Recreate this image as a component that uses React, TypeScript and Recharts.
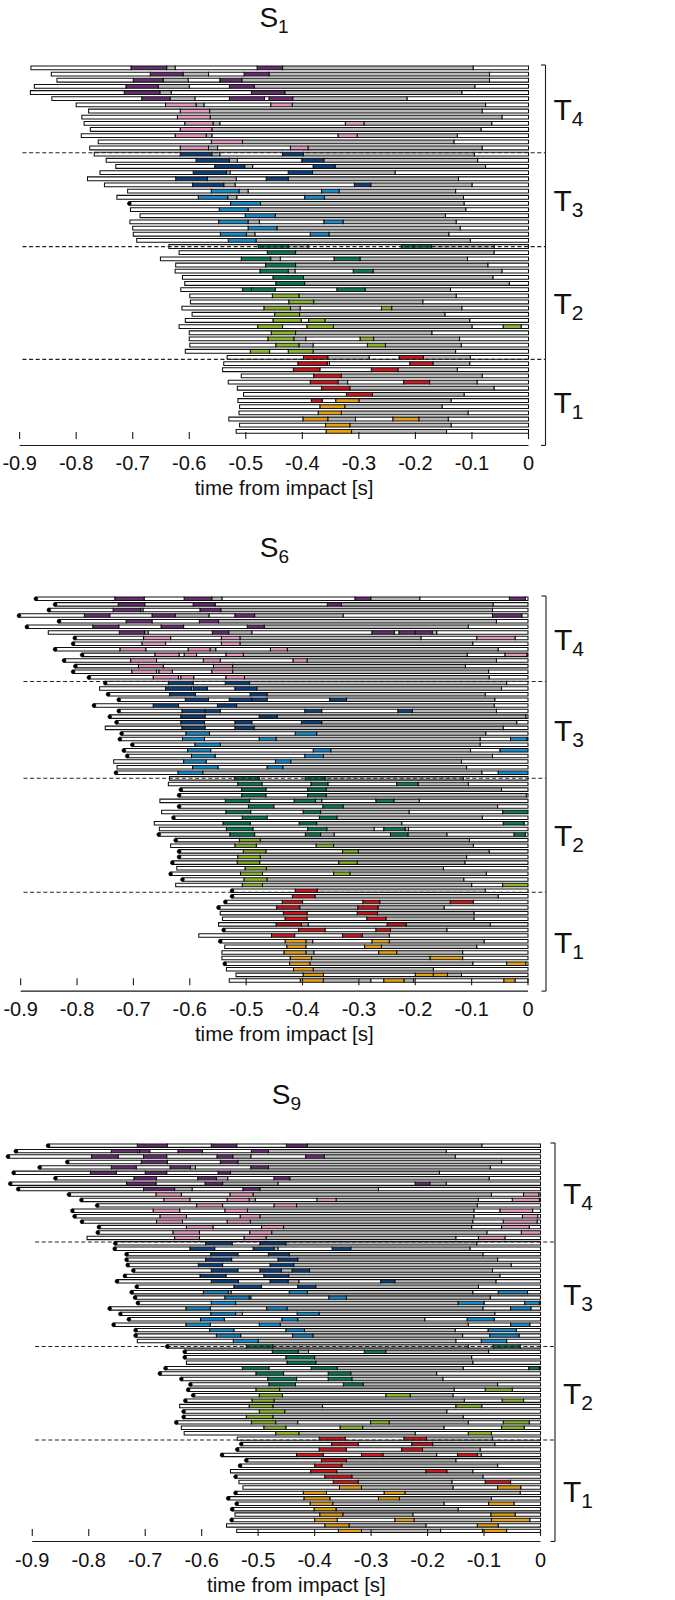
import React from "react";
import { Bar, Cell, ComposedChart, Line, ReferenceLine, XAxis, YAxis } from "recharts";

const FONT = "'Liberation Sans', Arial, sans-serif";

// W white, G grey, P purple, K pink, B dark blue, L light blue, N green, Y lime, R red, O orange
const FILL: Record<string, string> = {
  W: "#ffffff",
  G: "#b9b9b9",
  P: "#6a2e74",
  K: "#e89ac0",
  B: "#0d4280",
  L: "#1a8fd0",
  N: "#0b7b58",
  Y: "#8cb82b",
  R: "#cf1820",
  O: "#e8a315",
};

const TIME_TICKS = [-0.9, -0.8, -0.7, -0.6, -0.5, -0.4, -0.3, -0.2, -0.1, 0];
const TICK_LABELS = ["-0.9", "-0.8", "-0.7", "-0.6", "-0.5", "-0.4", "-0.3", "-0.2", "-0.1", "0"];

// one string per trial: start time ("*" = marked with a dot), then colour + end time of each segment
const s1T4 = [
  "-0.88 W-0.703 P-0.64 G-0.625 W-0.48 P-0.435 G-0.098 W0",
  "-0.844 W-0.669 P-0.611 G-0.566 W-0.503 P-0.459 G-0.069 W0",
  "-0.834 W-0.699 P-0.646 G-0.602 W-0.546 P-0.507 G-0.069 W0",
  "-0.874 W-0.712 P-0.655 G-0.6 W-0.529 P-0.485 G-0.095 W0",
  "-0.881 W-0.715 P-0.652 G-0.632 W-0.49 P-0.431 G-0.118 W0",
  "-0.843 W-0.684 P-0.634 G-0.59 W-0.529 P-0.467 W-0.459 P-0.417 G-0.215 W0",
  "-0.8 W-0.642 K-0.588 G-0.574 W-0.456 K-0.418 G-0.076 W0",
  "-0.778 W-0.616 K-0.564 G-0.082 W0",
  "-0.79 W-0.621 K-0.563 G-0.047 W0",
  "-0.786 W-0.608 K-0.558 G-0.546 W-0.324 K-0.291 G-0.065 W0",
  "-0.775 W-0.616 K-0.56 G-0.084 W0",
  "-0.791 W-0.625 K-0.57 G-0.56 W-0.337 K-0.303 G-0.126 W0",
  "-0.761 W-0.561 K-0.506 G-0.132 W0",
  "-0.776 W-0.616 K-0.566 G-0.55 W-0.421 K-0.39 G-0.082 W0",
];
const s1T3 = [
  "-0.768 W-0.616 B-0.56 G-0.546 W-0.435 B-0.398 G-0.096 W0",
  "-0.747 W-0.588 B-0.529 G-0.515 W-0.401 B-0.362 G-0.09 W0",
  "-0.73 W-0.555 B-0.502 G-0.488 W-0.381 B-0.342 G-0.076 W0",
  "-0.758 W-0.593 B-0.534 G-0.528 W-0.425 B-0.382 G-0.236 W0",
  "-0.78 W-0.624 B-0.568 G-0.517 W-0.464 B-0.425 G-0.124 W0",
  "-0.75 W-0.594 B-0.539 G-0.519 W-0.308 B-0.279 G-0.1 W0",
  "-0.709 W-0.561 L-0.512 G-0.496 W-0.366 L-0.335 G-0.129 W0",
  "-0.728 W-0.584 L-0.532 G-0.516 W-0.396 L-0.361 G-0.115 W0",
  "*-0.706 W-0.527 L-0.474 G-0.114 W0",
  "-0.704 W-0.547 L-0.496 G-0.111 W0",
  "-0.687 W-0.501 L-0.448 G-0.147 W0",
  "-0.705 W-0.548 L-0.496 G-0.476 W-0.362 L-0.328 G-0.128 W0",
  "-0.7 W-0.496 L-0.445 G-0.121 W0",
  "-0.699 W-0.545 L-0.499 G-0.484 W-0.386 L-0.353 G-0.141 W0",
  "-0.693 W-0.531 L-0.482 G-0.103 W0",
];
const s1T2 = [
  "-0.636 W-0.478 N-0.425 G-0.39 W-0.225 N-0.204 N-0.172 G-0.061 W0",
  "-0.618 W-0.462 N-0.412 G-0.061 W0",
  "-0.651 W-0.508 N-0.456 G-0.439 W-0.344 N-0.298 G-0.108 W0",
  "-0.624 W-0.465 N-0.412 G-0.072 W0",
  "-0.625 W-0.475 N-0.425 G-0.413 W-0.31 N-0.275 G-0.047 W0",
  "-0.612 W-0.452 N-0.398 G-0.063 W0",
  "-0.608 W-0.447 N-0.396 G-0.034 W0",
  "-0.615 W-0.506 N-0.49 N-0.448 W-0.339 N-0.289 G-0.138 W0",
  "-0.599 W-0.453 Y-0.406 G-0.128 W0",
  "-0.598 W-0.424 Y-0.38 G-0.187 W0",
  "-0.613 W-0.468 Y-0.421 G-0.404 W-0.26 Y-0.242 G-0.118 W0",
  "-0.595 W-0.449 Y-0.405 G-0.148 W0",
  "-0.607 W-0.452 Y-0.402 W-0.389 Y-0.36 G-0.104 W0",
  "-0.618 W-0.479 Y-0.435 W-0.392 Y-0.345 G-0.1 W-0.045 Y-0.013 W0",
  "-0.6 W-0.455 Y-0.412 G-0.171 W0",
  "-0.6 W-0.461 Y-0.415 G-0.394 W-0.298 Y-0.274 G-0.122 W0",
  "-0.599 W-0.447 Y-0.406 G-0.381 W-0.285 Y-0.253 G-0.119 W0",
  "-0.607 W-0.492 Y-0.458 W-0.425 Y-0.381 G-0.129 W0",
];
const s1T1 = [
  "-0.533 W-0.398 R-0.355 G-0.282 W-0.229 R-0.186 G-0.103 W0",
  "-0.539 W-0.408 R-0.356 G-0.352 W-0.21 R-0.169 G-0.104 W0",
  "-0.541 W-0.416 R-0.369 W-0.278 R-0.231 G-0.126 W0",
  "-0.508 W-0.38 R-0.331 G-0.082 W0",
  "-0.531 W-0.386 R-0.337 G-0.32 W-0.221 R-0.175 G-0.091 W0",
  "-0.515 W-0.366 R-0.316 G-0.061 W0",
  "-0.504 W-0.322 R-0.276 G-0.114 W0",
  "-0.514 W-0.384 R-0.365 W-0.341 O-0.3 G-0.137 W0",
  "-0.511 W-0.369 O-0.325 G-0.153 W0",
  "-0.512 W-0.372 O-0.331 G-0.107 W0",
  "-0.53 W-0.399 O-0.355 G-0.306 W-0.24 O-0.194 G-0.142 W0",
  "-0.511 W-0.359 O-0.316 G-0.137 W0",
  "-0.517 W-0.358 O-0.313 G-0.145 W0",
];

const s6T4 = [
  "*-0.873 W-0.733 P-0.681 W-0.61 P-0.561 G-0.543 W-0.307 P-0.279 G-0.192 W-0.033 P-0.005 W0",
  "*-0.839 W-0.727 P-0.68 W-0.594 P-0.555 W-0.356 P-0.331 G-0.062 W0",
  "*-0.85 W-0.736 P-0.687 G-0.683 W-0.582 P-0.545 G-0.063 W0",
  "*-0.903 W-0.787 P-0.742 W-0.667 P-0.626 G-0.566 W-0.52 P-0.485 G-0.328 W-0.063 P-0.011 W0",
  "*-0.832 W-0.713 P-0.667 W-0.583 P-0.549 G-0.056 W0",
  "*-0.889 W-0.772 P-0.726 W-0.651 P-0.611 W-0.498 P-0.468 G-0.106 W0",
  "-0.851 W-0.725 P-0.68 G-0.674 W-0.56 P-0.531 G-0.49 W-0.277 P-0.237 W-0.229 P-0.2 P-0.17 G-0.162 W0",
  "*-0.804 W-0.682 K-0.634 W-0.544 K-0.511 G-0.19 W-0.091 K-0.023 W0",
  "*-0.807 W-0.685 K-0.643 W-0.544 K-0.511 G-0.098 W0",
  "*-0.839 W-0.724 K-0.678 W-0.603 K-0.564 G-0.554 W-0.457 K-0.427 G-0.053 W0",
  "*-0.791 W-0.662 K-0.619 W-0.61 K-0.588 W-0.536 K-0.505 G-0.108 W-0.041 K-0.002 W0",
  "*-0.823 W-0.705 K-0.659 W-0.576 K-0.546 W-0.417 K-0.392 G-0.056 W0",
  "*-0.803 W-0.691 K-0.647 W-0.558 K-0.524 G-0.111 W0",
  "*-0.807 W-0.703 K-0.659 W-0.655 K-0.631 W-0.561 K-0.524 G-0.07 W0",
  "*-0.779 W-0.665 K-0.62 W-0.616 K-0.593 W-0.536 K-0.503 G-0.069 W0",
];
const s6T3 = [
  "*-0.75 W-0.638 B-0.594 W-0.537 B-0.494 G-0.038 W0",
  "-0.76 W-0.643 B-0.597 W-0.594 B-0.569 W-0.52 B-0.481 G-0.047 W0",
  "*-0.745 W-0.636 B-0.59 W-0.493 B-0.463 G-0.076 W0",
  "*-0.726 W-0.608 B-0.567 W-0.53 B-0.49 B-0.463 W-0.352 B-0.322 G-0.059 W0",
  "*-0.77 W-0.665 B-0.62 W-0.551 B-0.517 G-0.06 W0",
  "*-0.726 W-0.614 B-0.573 B-0.546 W-0.396 B-0.366 W-0.231 B-0.205 G-0.056 W0",
  "*-0.742 W-0.616 B-0.573 W-0.477 B-0.445 G-0.004 W0",
  "*-0.73 W-0.616 B-0.574 W-0.52 B-0.49 W-0.402 B-0.366 G-0.02 W0",
  "-0.75 W-0.614 B-0.573 W-0.52 B-0.486 G-0.044 W0",
  "*-0.721 W-0.607 L-0.565 W-0.413 L-0.375 G-0.075 W0",
  "*-0.724 W-0.613 L-0.574 W-0.477 L-0.447 G-0.085 W-0.031 L-0.002 W0",
  "*-0.702 W-0.591 L-0.546 G-0.085 W0",
  "*-0.717 W-0.604 L-0.563 W-0.381 L-0.35 G-0.102 W-0.05 L0",
  "*-0.711 W-0.597 L-0.555 W-0.396 L-0.363 G-0.063 W0",
  "-0.735 W-0.611 L-0.571 W-0.448 L-0.421 G-0.118 W0",
  "-0.729 W-0.595 L-0.55 W-0.463 L-0.435 G-0.109 W0",
  "*-0.731 W-0.621 L-0.577 G-0.082 W-0.053 L0",
];
const s6T2 = [
  "-0.636 W-0.521 N-0.477 W-0.395 N-0.36 G-0.115 W0",
  "-0.638 W-0.515 N-0.472 W-0.385 N-0.355 W-0.233 N-0.195 G-0.106 W0",
  "*-0.616 W-0.508 N-0.465 W-0.391 N-0.358 G-0.047 W0",
  "*-0.619 W-0.508 N-0.465 W-0.391 N-0.358 G-0.003 W0",
  "-0.653 W-0.537 N-0.494 W-0.415 N-0.377 G-0.366 W-0.27 N-0.238 G-0.193 W0",
  "*-0.619 W-0.496 N-0.451 W-0.364 N-0.328 G-0.054 W0",
  "-0.65 W-0.536 N-0.492 W-0.399 N-0.368 G-0.211 W-0.045 N0",
  "*-0.629 W-0.507 N-0.463 W-0.37 N-0.339 G-0.081 W0",
  "-0.663 W-0.541 N-0.493 W-0.406 N-0.375 G-0.224 W-0.044 N-0.007 W0",
  "-0.654 W-0.535 N-0.488 W-0.391 N-0.357 G-0.273 W-0.256 N-0.218 G-0.212 W0",
  "*-0.655 W-0.529 N-0.485 W-0.395 N-0.368 G-0.344 W-0.244 N-0.213 G-0.144 W-0.025 N-0.005 W0",
  "*-0.625 W-0.512 Y-0.475 G-0.104 W0",
  "-0.634 W-0.52 Y-0.482 W-0.376 Y-0.345 G-0.097 W0",
  "*-0.619 W-0.505 Y-0.465 W-0.329 Y-0.301 G-0.069 W0",
  "*-0.619 W-0.515 Y-0.475 G-0.109 W0",
  "*-0.631 W-0.516 Y-0.476 W-0.336 Y-0.303 G-0.112 W0",
  "-0.623 W-0.502 Y-0.464 G-0.15 W0",
  "*-0.634 W-0.51 Y-0.471 W-0.345 Y-0.316 G-0.074 W0",
  "*-0.613 W-0.504 Y-0.463 G-0.114 W0",
  "-0.625 W-0.507 Y-0.471 G-0.1 W-0.045 Y0",
];
const s6T1 = [
  "*-0.525 W-0.413 R-0.374 G-0.076 W0",
  "*-0.525 W-0.418 R-0.378 G-0.053 W0",
  "*-0.537 W-0.436 R-0.4 W-0.293 R-0.263 G-0.138 R-0.097 W0",
  "*-0.549 W-0.446 R-0.405 G-0.302 R-0.266 G-0.149 W0",
  "-0.546 W-0.434 R-0.392 W-0.303 R-0.267 G-0.096 W0",
  "-0.542 W-0.431 R-0.392 W-0.286 R-0.252 G-0.096 W0",
  "-0.549 W-0.447 R-0.402 G-0.39 W-0.25 R-0.216 G-0.067 W0",
  "*-0.54 W-0.407 R-0.36 W-0.27 R-0.244 G-0.144 W0",
  "-0.584 W-0.455 R-0.414 W-0.329 R-0.294 G-0.246 W0",
  "*-0.546 W-0.431 O-0.394 G-0.382 W-0.277 O-0.246 G-0.078 W0",
  "-0.538 W-0.428 O-0.394 W-0.29 O-0.26 G-0.091 W0",
  "-0.543 W-0.433 O-0.394 G-0.38 W-0.265 O-0.233 G-0.116 W0",
  "-0.543 W-0.422 O-0.384 G-0.174 O-0.116 W0",
  "*-0.538 W-0.423 O-0.387 G-0.098 W-0.038 O-0.004 W0",
  "-0.535 W-0.416 O-0.381 G-0.168 W0",
  "-0.518 W-0.399 O-0.363 W-0.2 O-0.168 O-0.143 G-0.118 W0",
  "-0.53 W-0.404 O-0.363 G-0.279 W-0.256 O-0.22 G-0.203 W-0.043 O-0.023 W0",
];

const s9T4 = [
  "*-0.872 W-0.714 P-0.661 W-0.583 P-0.538 W-0.45 P-0.413 G-0.104 W0",
  "*-0.929 W-0.76 P-0.713 W-0.71 P-0.692 W-0.642 P-0.599 W-0.512 P-0.482 G-0.167 W0",
  "*-0.943 W-0.795 P-0.748 W-0.703 P-0.662 W-0.573 P-0.545 G-0.513 W-0.416 P-0.383 G-0.151 W0",
  "*-0.838 W-0.707 P-0.661 W-0.567 P-0.536 G-0.069 W0",
  "*-0.887 W-0.76 P-0.716 W-0.656 P-0.62 G-0.611 W-0.513 P-0.482 G-0.089 W0",
  "*-0.933 W-0.797 P-0.751 W-0.7 P-0.662 W-0.571 P-0.549 G-0.179 W0",
  "*-0.859 W-0.72 P-0.68 W-0.607 P-0.574 G-0.554 W-0.472 P-0.444 G-0.091 W0",
  "*-0.939 W-0.733 P-0.681 W-0.594 P-0.563 G-0.465 W-0.222 P-0.196 G-0.167 W0",
  "*-0.925 W-0.703 P-0.648 G-0.617 W-0.527 P-0.497 G-0.287 W0",
  "*-0.835 W-0.681 K-0.636 W-0.55 K-0.509 G-0.087 W-0.03 K-0.003 W0",
  "*-0.813 W-0.667 K-0.621 W-0.555 K-0.516 G-0.505 W-0.396 K-0.362 G-0.11 W-0.05 K-0.002 W0",
  "*-0.785 W-0.609 K-0.563 W-0.472 K-0.432 G-0.112 W0",
  "*-0.829 W-0.686 K-0.639 W-0.559 K-0.519 G-0.118 W-0.072 K-0.014 W0",
  "*-0.825 W-0.674 K-0.627 W-0.532 K-0.497 G-0.118 W-0.032 K-0.005 W0",
  "*-0.812 W-0.68 K-0.634 W-0.555 K-0.514 G-0.12 W-0.066 K-0.006 W0",
  "*-0.782 W-0.627 K-0.58 W-0.494 K-0.455 G-0.122 W-0.069 K-0.02 W0",
  "*-0.784 W-0.651 K-0.604 W-0.515 K-0.476 G-0.095 W-0.034 K0",
  "-0.803 W-0.648 K-0.604 W-0.525 K-0.486 G-0.15 W-0.11 K-0.063 W0",
];
const s9T3 = [
  "*-0.753 W-0.593 B-0.546 W-0.497 B-0.451 G-0.113 W0",
  "*-0.754 W-0.621 B-0.577 W-0.509 B-0.472 G-0.465 W-0.369 B-0.336 G-0.125 W0",
  "*-0.733 W-0.584 B-0.536 W-0.482 B-0.445 G-0.102 W0",
  "*-0.733 W-0.593 B-0.547 W-0.465 B-0.43 G-0.076 W0",
  "*-0.731 W-0.606 B-0.563 W-0.479 B-0.437 G-0.052 W0",
  "*-0.721 W-0.583 B-0.536 W-0.497 B-0.459 G-0.44 B-0.409 G-0.085 W0",
  "*-0.736 W-0.603 B-0.557 W-0.49 B-0.446 G-0.072 W0",
  "*-0.75 W-0.583 B-0.535 W-0.479 B-0.447 G-0.428 W-0.283 B-0.258 G-0.079 W0",
  "*-0.715 W-0.543 B-0.494 W-0.43 B-0.398 G-0.11 W0",
  "*-0.724 W-0.597 L-0.553 G-0.548 W-0.445 L-0.413 G-0.12 W-0.075 L-0.023 W0",
  "*-0.718 W-0.559 L-0.516 G-0.513 W-0.375 L-0.344 G-0.089 W0",
  "*-0.713 W-0.583 L-0.54 G-0.146 L-0.1 W-0.028 L-0.002 W0",
  "*-0.763 W-0.628 L-0.585 W-0.485 L-0.449 G-0.102 W-0.053 L-0.017 W0",
  "*-0.744 W-0.584 L-0.54 G-0.528 W-0.431 L-0.392 G-0.081 W0",
  "*-0.729 W-0.602 L-0.56 W-0.458 L-0.43 G-0.205 W-0.13 L-0.082 W0",
  "*-0.756 W-0.628 L-0.585 W-0.498 L-0.461 G-0.128 W-0.053 L-0.019 W0",
  "*-0.717 W-0.586 L-0.543 W-0.451 L-0.418 G-0.151 W-0.093 L-0.043 W0",
  "*-0.717 W-0.574 L-0.531 W-0.439 L-0.403 G-0.138 W-0.09 L-0.038 W0",
  "-0.714 W-0.544 L-0.5 G-0.15 W-0.105 L-0.06 W0",
];
const s9T2 = [
  "*-0.661 W-0.521 N-0.474 G-0.128 W-0.084 N-0.036 W0",
  "*-0.63 W-0.475 N-0.429 G-0.411 W-0.312 N-0.274 G-0.092 W0",
  "*-0.63 W-0.451 N-0.4 G-0.122 W0",
  "-0.627 W-0.449 N-0.398 G-0.12 W0",
  "*-0.664 W-0.528 N-0.481 W-0.406 N-0.36 G-0.137 W-0.021 N-0.002 W0",
  "*-0.674 W-0.504 N-0.455 W-0.376 N-0.336 G-0.184 W0",
  "*-0.636 W-0.483 N-0.432 W-0.376 N-0.334 G-0.173 W0",
  "*-0.62 W-0.481 N-0.434 W-0.349 N-0.314 G-0.076 W0",
  "*-0.624 W-0.504 Y-0.462 G-0.153 W-0.098 Y-0.05 W0",
  "*-0.615 W-0.498 Y-0.457 W-0.274 Y-0.231 G-0.155 W0",
  "*-0.629 W-0.511 Y-0.472 G-0.135 W-0.068 Y-0.03 W0",
  "-0.639 W-0.516 Y-0.474 G-0.386 W-0.15 Y-0.104 W0",
  "*-0.632 W-0.498 Y-0.453 G-0.166 W0",
  "*-0.632 W-0.521 Y-0.474 G-0.137 W0",
  "*-0.645 W-0.512 Y-0.469 G-0.43 W-0.301 Y-0.268 G-0.128 W-0.066 Y-0.02 W0",
  "-0.636 W-0.49 Y-0.451 W-0.355 Y-0.315 G-0.171 W-0.069 Y-0.029 W0",
  "-0.631 W-0.469 Y-0.428 G-0.222 W-0.128 Y-0.087 W0",
];
const s9T1 = [
  "-0.537 W-0.392 R-0.346 W-0.242 R-0.202 G-0.085 W0",
  "*-0.53 W-0.37 R-0.323 W-0.228 R-0.191 G-0.081 W0",
  "*-0.537 W-0.392 R-0.344 W-0.246 R-0.209 G-0.107 W0",
  "*-0.564 W-0.432 R-0.385 W-0.317 R-0.279 G-0.184 W-0.147 R-0.112 G-0.105 W0",
  "*-0.521 W-0.388 R-0.344 G-0.15 W0",
  "*-0.532 W-0.4 R-0.352 G-0.076 W0",
  "-0.549 W-0.407 R-0.361 G-0.203 R-0.166 G-0.12 W0",
  "*-0.54 W-0.382 R-0.334 G-0.102 W0",
  "-0.534 W-0.367 R-0.323 G-0.157 W-0.098 R-0.053 W0",
  "-0.527 W-0.356 O-0.317 G-0.155 W-0.076 O-0.035 W0",
  "*-0.54 W-0.42 O-0.379 W-0.277 O-0.24 G-0.036 W0",
  "*-0.553 W-0.419 O-0.373 W-0.287 O-0.25 G-0.087 W0",
  "*-0.538 W-0.408 O-0.368 G-0.171 W-0.092 O-0.047 W0",
  "*-0.546 W-0.401 O-0.362 G-0.146 W0",
  "-0.541 W-0.391 O-0.35 G-0.226 W-0.088 O-0.045 W0",
  "*-0.547 W-0.4 O-0.36 W-0.258 O-0.224 G-0.087 O-0.019 W0",
  "-0.556 W-0.382 O-0.339 G-0.203 W-0.112 O-0.075 W0",
  "-0.538 W-0.358 O-0.317 G-0.177 W-0.103 O-0.06 W0",
];

type Seg = { c: string; from: number; to: number };
type Trial = { dot: boolean; start: number; segs: Seg[] };

function parseTrial(line: string): Trial {
  const tok = line.trim().split(/\s+/);
  const dot = tok[0].startsWith("*");
  const start = parseFloat(tok[0].replace("*", ""));
  const segs: Seg[] = [];
  let prev = start;
  for (const t of tok.slice(1)) {
    const end = t.length > 1 ? parseFloat(t.slice(1)) : 0;
    segs.push({ c: t[0], from: prev, to: end });
    prev = end;
  }
  return { dot, start, segs };
}

type PanelCfg = {
  subject: string;
  blocks: { name: string; rows: string[] }[];
  xMin: number;
  x0: number; // pixel of t = 0
  ppu: number; // pixels per second
  top: number;
  pitch: number;
  bar: number;
  axisGap: number;
  bracketGap: number;
};

const PANELS: PanelCfg[] = [
  {
    subject: "1",
    blocks: [
      { name: "4", rows: s1T4 },
      { name: "3", rows: s1T3 },
      { name: "2", rows: s1T2 },
      { name: "1", rows: s1T1 },
    ],
    xMin: -0.93,
    x0: 528.5,
    ppu: 565.4,
    top: 65.3,
    pitch: 6.16,
    bar: 3.8,
    axisGap: 4.5,
    bracketGap: 17,
  },
  {
    subject: "6",
    blocks: [
      { name: "4", rows: s6T4 },
      { name: "3", rows: s6T3 },
      { name: "2", rows: s6T2 },
      { name: "1", rows: s6T1 },
    ],
    xMin: -0.93,
    x0: 528,
    ppu: 563.7,
    top: 595.8,
    pitch: 5.614,
    bar: 3.5,
    axisGap: 2,
    bracketGap: 18,
  },
  {
    subject: "9",
    blocks: [
      { name: "4", rows: s9T4 },
      { name: "3", rows: s9T3 },
      { name: "2", rows: s9T2 },
      { name: "1", rows: s9T1 },
    ],
    xMin: -0.955,
    x0: 540.5,
    ppu: 564.7,
    top: 1143,
    pitch: 5.425,
    bar: 3.4,
    axisGap: 2.3,
    bracketGap: 14.5,
  },
];

const PAD = 10;
const AXIS_H = 70;

function TimeTick(props: any) {
  const { x, y, payload, gap } = props;
  const i = TIME_TICKS.indexOf(payload.value);
  const base = y + gap;
  return (
    <g>
      <line x1={x} x2={x} y1={base} y2={base - 7} stroke="#1a1a1a" strokeWidth={1.1} />
      <text x={x} y={base + 31} textAnchor="middle" fontSize={20} fontFamily={FONT} fill="#111">
        {i >= 0 ? TICK_LABELS[i] : String(payload.value)}
      </text>
    </g>
  );
}

function BlockLabel({ viewBox, n }: { viewBox: any; n: string }) {
  const cy = viewBox.y + viewBox.height / 2;
  return (
    <text x={viewBox.x + 8} y={cy + 11} fontSize={30} fontFamily={FONT} fill="#111">
      T
      <tspan fontSize={21} dy={6}>
        {n}
      </tspan>
    </text>
  );
}

function Panel({ cfg }: { cfg: PanelCfg }) {
  const trials = cfg.blocks.flatMap((b) => b.rows.map(parseTrial));
  const layers = Math.max(...trials.map((t) => t.segs.length));
  const data = trials.map((t, i) => {
    const d: Record<string, any> = { name: `r${i}`, dot: t.dot ? t.start : null };
    const rev = [...t.segs].reverse();
    for (let k = 0; k < layers; k++) {
      const s = rev[k];
      d[`v${k}`] = s ? s.from - s.to : 0;
      d[`c${k}`] = s ? s.c : "W";
    }
    return d;
  });

  const n = data.length;
  const edges: number[] = [0];
  cfg.blocks.forEach((b) => edges.push(edges[edges.length - 1] + b.rows.length));

  const plotH = n * cfg.pitch;
  const left = cfg.x0 - Math.abs(cfg.xMin) * cfg.ppu;
  const right = 675 - cfg.x0;
  const bx = cfg.bracketGap / cfg.ppu;
  const tickLen = 4.5 / cfg.ppu;
  const axisRow = n + cfg.axisGap / cfg.pitch;
  const axisY = cfg.top + plotH + cfg.axisGap;
  const x9 = cfg.x0 - 0.9 * cfg.ppu;
  const cx = (x9 + cfg.x0) / 2;

  return (
    <>
      <div
        style={{
          position: "absolute",
          left: cx,
          top: cfg.top - 38 - 23.7,
          transform: "translateX(-50%)",
          fontFamily: FONT,
          fontSize: 28,
          lineHeight: 1,
          color: "#111",
          whiteSpace: "nowrap",
        }}
      >
        S<span style={{ fontSize: 19, position: "relative", top: 6 }}>{cfg.subject}</span>
      </div>
      <div style={{ position: "absolute", left: 0, top: cfg.top - PAD }}>
        <ComposedChart
          layout="vertical"
          width={675}
          height={PAD + plotH + AXIS_H}
          data={data}
          margin={{ top: PAD, right, bottom: 0, left }}
        >
          <XAxis
            type="number"
            domain={[cfg.xMin, 0]}
            ticks={TIME_TICKS}
            interval={0}
            axisLine={false}
            tickLine={false}
            tickSize={0}
            tickMargin={0}
            height={AXIS_H}
            tick={(p: any) => <TimeTick {...p} gap={cfg.axisGap} />}
          />
          <YAxis yAxisId="rows" type="category" dataKey="name" hide />
          <YAxis yAxisId="n" type="number" domain={[0, n]} hide allowDataOverflow />
          {Array.from({ length: layers }, (_, k) => (
            <Bar
              key={`v${k}`}
              yAxisId="rows"
              dataKey={`v${k}`}
              stackId="trial"
              barSize={cfg.bar}
              stroke="#111"
              strokeWidth={1.05}
              isAnimationActive={false}
            >
              {data.map((d, i) => (
                <Cell key={i} fill={FILL[d[`c${k}`]]} />
              ))}
            </Bar>
          ))}
          <Line
            yAxisId="rows"
            dataKey="dot"
            stroke="none"
            dot={{ r: 2, fill: "#000", stroke: "#000", strokeWidth: 0.4 }}
            activeDot={false}
            isAnimationActive={false}
          />
          {edges.slice(1, -1).map((e) => (
            <ReferenceLine
              key={`d${e}`}
              yAxisId="n"
              segment={[
                { x: -0.895, y: e },
                { x: bx, y: e },
              ]}
              stroke="#222"
              strokeWidth={1.1}
              strokeDasharray="4 2.6"
              ifOverflow="visible"
            />
          ))}
          <ReferenceLine
            yAxisId="n"
            segment={[
              { x: -0.9, y: axisRow },
              { x: 0, y: axisRow },
            ]}
            stroke="#1a1a1a"
            strokeWidth={1.1}
            ifOverflow="visible"
          />
          {cfg.blocks.map((b, i) => (
            <ReferenceLine
              key={`b${i}`}
              yAxisId="n"
              segment={[
                { x: bx, y: edges[i] },
                { x: bx, y: i === cfg.blocks.length - 1 ? axisRow : edges[i + 1] },
              ]}
              stroke="#1a1a1a"
              strokeWidth={1.1}
              ifOverflow="visible"
              label={(p: any) => <BlockLabel viewBox={p.viewBox} n={b.name} />}
            />
          ))}
          <ReferenceLine
            yAxisId="n"
            segment={[
              { x: bx - tickLen, y: 0 },
              { x: bx, y: 0 },
            ]}
            stroke="#1a1a1a"
            strokeWidth={1.1}
            ifOverflow="visible"
          />
          <ReferenceLine
            yAxisId="n"
            segment={[
              { x: bx - tickLen, y: axisRow },
              { x: bx, y: axisRow },
            ]}
            stroke="#1a1a1a"
            strokeWidth={1.1}
            ifOverflow="visible"
          />
        </ComposedChart>
      </div>
      <div
        style={{
          position: "absolute",
          left: cx + 10,
          top: axisY + 56 - 17.4,
          transform: "translateX(-50%)",
          fontFamily: FONT,
          fontSize: 20.5,
          lineHeight: 1,
          color: "#111",
          whiteSpace: "nowrap",
        }}
      >
        time from impact [s]
      </div>
    </>
  );
}

export default function App() {
  return (
    <div style={{ position: "absolute", left: 0, top: 0, width: 675, height: 1600, background: "#fff" }}>
      {PANELS.map((cfg) => (
        <Panel key={cfg.subject} cfg={cfg} />
      ))}
    </div>
  );
}
